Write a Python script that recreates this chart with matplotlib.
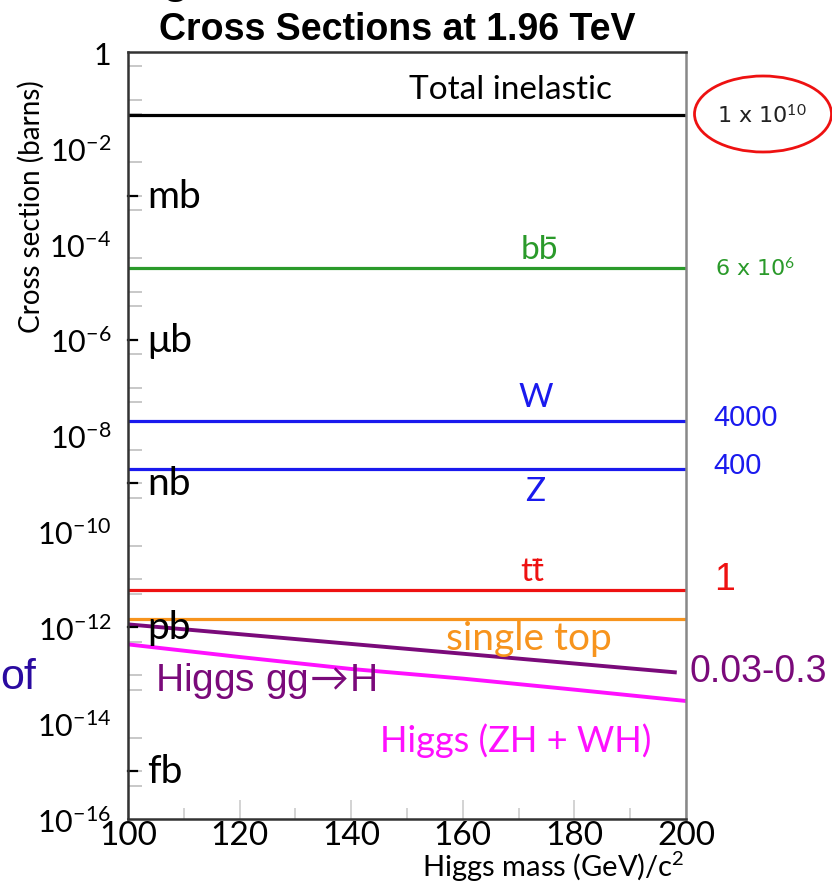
import matplotlib.pyplot as plt
import numpy as np
from matplotlib.patches import Ellipse
from matplotlib.ticker import FixedLocator, NullFormatter

plt.rcParams['font.family'] = ['Lato', 'DejaVu Sans']
plt.rcParams['mathtext.fontset'] = 'custom'
plt.rcParams['mathtext.rm'] = 'Lato'
plt.rcParams['mathtext.it'] = 'Lato:italic'

# flat cross sections (barns)
process_names = ['Total inelastic', 'bb\u0304', 'W', 'Z', 'tt\u0304', 'single top']
process_xsec = [4.8e-2, 3.2e-5, 2.0e-8, 2.0e-9, 6.0e-12, 1.5e-12]
process_colors = ['black', '#2a9a2a', '#1a1aee', '#1a1aee', '#ee1111', '#f7941d']
process_label_y = [0.17, 7.7e-5, 6.3e-8, 6.9e-10, 1.5e-11, 6.1e-13]
process_label_x = [168.5, 173.8, 173, 173, 172.5, 171.8]
process_label_size = [24, 24, 24, 24, 24, 28]

# right hand side numbers (pb)
side_text = [r'1 x 10$^{10}$', r'6 x 10$^{6}$', '4000', '400', '1', '0.03-0.3']
side_y = [4.8e-2, 3.2e-5, 2.4e-8, 2.4e-9, 1.0e-11, 1.2e-13]

# Higgs curves vs mass
mass_gg = [100, 198]
xsec_gg = [1.15e-12, 1.15e-13]
mass_vh = [100, 120, 140, 160, 180, 200]
xsec_vh = [4.4e-13, 2.4e-13, 1.35e-13, 8.5e-14, 5.0e-14, 2.9e-14]

unit_names = ['mb', '\u03bcb', 'nb', 'pb', 'fb']
unit_vals = [1e-3, 1e-6, 1e-9, 1e-12, 1e-15]

fig = plt.figure(figsize=(8.32, 8.87), dpi=100)
ax = fig.add_axes([0.1538, 0.0755, 0.6707, 0.8647])
ax.set_yscale('log')
ax.set_xlim(100, 200)
ax.set_ylim(1e-16, 1)

for val, col in zip(process_xsec, process_colors):
    ax.axhline(val, color=col, lw=2.3)
ax.plot(mass_gg, xsec_gg, color='#7a0a7a', lw=2.8)
ax.plot(mass_vh, xsec_vh, color='#ff10ff', lw=2.8)

# labels in the plot
for name, col, lx, ly, fs in zip(process_names, process_colors, process_label_x,
                                 process_label_y, process_label_size):
    ax.text(lx, ly, name, color=col, fontsize=fs, ha='center', va='center')
ax.text(104.8, 8.1e-14, r'Higgs gg$\!\rightarrow\!$H', color='#7a0a7a', fontsize=28,
        family=['Liberation Sans', 'DejaVu Sans'], ha='left', va='center')
ax.text(145.2, 4.6e-15, 'Higgs (ZH + WH)', color='#ff10ff', fontsize=26, ha='left', va='center')

for name, val in zip(unit_names, unit_vals):
    ax.text(103.4, val, name, fontsize=28, ha='left', va='center')

# ticks
ax.yaxis.set_major_locator(FixedLocator([10.0 ** -k for k in range(0, 17, 2)]))
ax.set_yticklabels(['1'] + [r'10$^{-%d}$' % k for k in range(2, 17, 2)])
minor = [m * 10.0 ** -k for k in range(0, 17) for m in (1, 5)]
ax.yaxis.set_minor_locator(FixedLocator(minor))
ax.yaxis.set_minor_formatter(NullFormatter())
ax.tick_params(axis='y', which='major', direction='in', length=0, labelsize=22, pad=12)
ax.tick_params(axis='y', which='minor', direction='in', length=10, color='#c4c4c4', width=1.3)
for val in unit_vals:
    ax.plot([100, 101.6], [val, val], color='black', lw=1.6, clip_on=False)

ax.set_xticks([100, 120, 140, 160, 180, 200])
ax.set_xticks([110, 130, 150, 170, 190], minor=True)
ax.tick_params(axis='x', which='major', direction='in', length=14, color='#cccccc', width=1.2,
               labelsize=24, pad=1)
ax.tick_params(axis='x', which='minor', direction='in', length=8, color='#cccccc', width=1.2)

for side in ['left', 'bottom', 'top']:
    ax.spines[side].set_color('#333333')
    ax.spines[side].set_linewidth(1.8)
ax.spines['right'].set_color('#888888')
ax.spines['right'].set_linewidth(1.8)

ax.set_ylabel('Cross section (barns)', fontsize=20)
ax.yaxis.set_label_coords(-0.149, 0.80)
fig.text(553 / 832, 1 - 867 / 887, r'Higgs mass (GeV)/c$^2$', fontsize=21, ha='center', va='center')

fig.text(397 / 832, 1 - 30 / 887, 'Cross Sections at 1.96 TeV', fontsize=27, fontweight='bold',
         family=['Liberation Sans Narrow', 'Liberation Sans'], ha='center', va='center')

# right side numbers
side_colors = ['#222222', '#2a9a2a', '#1a1aee', '#1a1aee', '#ee1111', '#7a0a7a']
side_sizes = [16, 16, 21, 21, 27, 27]
side_x = [0.862, 0.859, 0.857, 0.857, 0.858, 0.829]
side_fam = ['DejaVu Sans', 'DejaVu Sans', 'Liberation Sans', 'Liberation Sans',
            'Liberation Sans', 'Liberation Sans']
for t, y, c, s, x, f in zip(side_text, side_y, side_colors, side_sizes, side_x, side_fam):
    yf = fig.transFigure.inverted().transform(ax.transData.transform((200, y)))[1]
    fig.text(x, yf, t, color=c, fontsize=s, ha='left', va='center', family=[f, 'DejaVu Sans'])

fig.add_artist(Ellipse((763 / 832, 1 - 115 / 887), 137 / 832, 76 / 887, transform=fig.transFigure,
                       fill=False, edgecolor='#ee1111', lw=2))

# bits of the slide around the chart
fig.text(0.0, 1 - 678 / 887, 'of', color='#2a0aa0', fontsize=31, ha='left', va='center',
         family=['Liberation Sans', 'DejaVu Sans'])
fig.text(0.211, 1.009, 'g', fontsize=36, ha='center', va='baseline',
         family=['Liberation Sans', 'DejaVu Sans'])
fig.text(0.855, 1.009, 'b, t', fontsize=36, ha='left', va='baseline',
         family=['Liberation Sans', 'DejaVu Sans'])

fig.savefig('out.png', dpi=100)
